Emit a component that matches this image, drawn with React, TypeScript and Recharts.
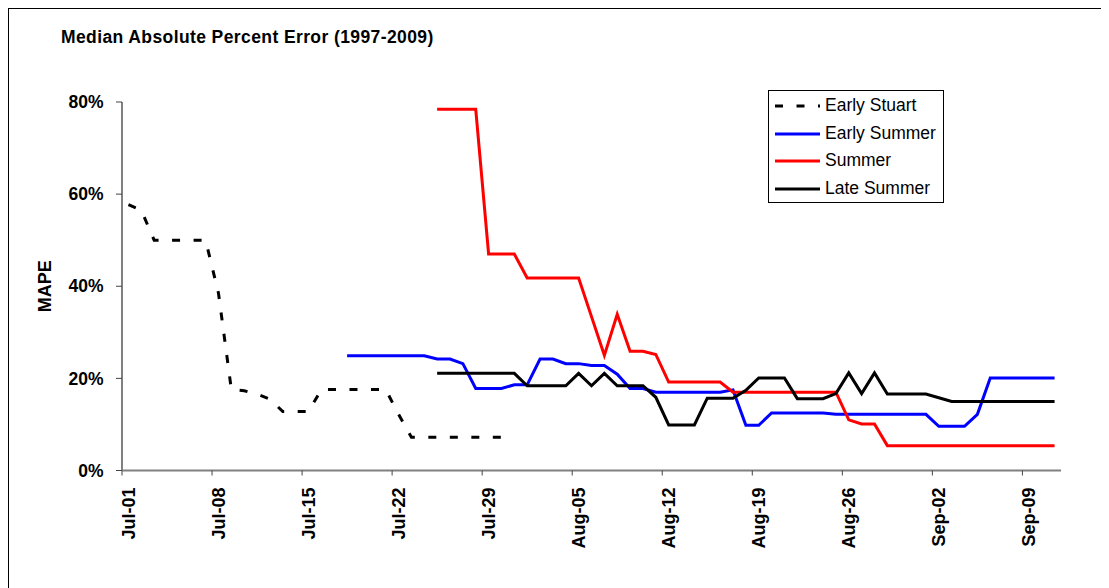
import React from 'react';
import { LineChart, Line, XAxis, YAxis, Legend } from 'recharts';

const FONT = '"Liberation Sans", Arial, Helvetica, sans-serif';

// Categories: one per day, Jul-01 .. Sep-11
const dates = [
  'Jul-01','Jul-02','Jul-03','Jul-04','Jul-05','Jul-06','Jul-07','Jul-08','Jul-09','Jul-10',
  'Jul-11','Jul-12','Jul-13','Jul-14','Jul-15','Jul-16','Jul-17','Jul-18','Jul-19','Jul-20',
  'Jul-21','Jul-22','Jul-23','Jul-24','Jul-25','Jul-26','Jul-27','Jul-28','Jul-29','Jul-30',
  'Jul-31','Aug-01','Aug-02','Aug-03','Aug-04','Aug-05','Aug-06','Aug-07','Aug-08','Aug-09',
  'Aug-10','Aug-11','Aug-12','Aug-13','Aug-14','Aug-15','Aug-16','Aug-17','Aug-18','Aug-19',
  'Aug-20','Aug-21','Aug-22','Aug-23','Aug-24','Aug-25','Aug-26','Aug-27','Aug-28','Aug-29',
  'Aug-30','Aug-31','Sep-01','Sep-02','Sep-03','Sep-04','Sep-05','Sep-06','Sep-07','Sep-08',
  'Sep-09','Sep-10','Sep-11',
];

// Tick labels (every 7th day)
const tickLabels = ['Jul-01','Jul-08','Jul-15','Jul-22','Jul-29','Aug-05','Aug-12','Aug-19','Aug-26','Sep-02','Sep-09'];
const yTicks = [0, 20, 40, 60, 80];

// Series values (MAPE, %), each with the day index where it begins
const earlyStuartStart = 0;
const earlyStuart = [
  57.7, 56.5, 50, 50, 50, 50, 50, 38.5, 17.6, 17.3,
  16.6, 15.5, 12.8, 12.8, 12.8, 17.6, 17.6, 17.6, 17.6, 17.6,
  17.6, 12.2, 7.2, 7.2, 7.2, 7.2, 7.2, 7.2, 7.2, 7.2, 7.2,
];

const earlySummerStart = 17;
const earlySummer = [
  24.9, 24.9, 24.9, 24.9, 24.9, 24.9, 24.9,
  24.2, 24.2, 23.2, 17.8, 17.8, 17.8, 18.6, 18.6, 24.2, 24.2, 23.2, 23.2, 22.8, 22.8, 20.9, 17.8, 17.8,
  17.0, 17.0, 17.0, 17.0, 17.0, 17.0,
  17.5, 9.8, 9.8,
  12.5, 12.5, 12.5, 12.5, 12.5,
  12.2, 12.2, 12.2, 12.2, 12.2, 12.2, 12.2, 12.2,
  9.6, 9.6, 9.6, 12.2,
  20.1, 20.1, 20.1, 20.1, 20.1, 20.1,
];

const summerStart = 24;
const summer = [
  78.4, 78.4, 78.4, 78.4,
  47.0, 47.0, 47.0,
  41.8, 41.8, 41.8, 41.8, 41.8,
  33.4, 25.0, 33.9, 25.9, 25.9, 25.2,
  19.2, 19.2, 19.2, 19.2, 19.2,
  17.0, 17.0, 17.0, 17.0, 17.0, 17.0, 17.0, 17.0, 17.0,
  11.0, 10.1, 10.1,
  5.4, 5.4, 5.4, 5.4, 5.4, 5.4, 5.4, 5.4, 5.4, 5.4, 5.4, 5.4, 5.4, 5.4,
];

const lateSummerStart = 24;
const lateSummer = [
  21.1, 21.1, 21.1, 21.1, 21.1, 21.1, 21.1,
  18.4, 18.4, 18.4, 18.4,
  21.1, 18.4, 21.1,
  18.4, 18.4, 18.4,
  15.9, 9.9, 9.9, 9.9,
  15.7, 15.7, 15.7, 17.4,
  20.1, 20.1, 20.1,
  15.6, 15.6, 15.6,
  16.7, 21.2, 16.7, 21.2,
  16.6, 16.6, 16.6, 16.6,
  15.8,
  15.0, 15.0, 15.0, 15.0, 15.0, 15.0, 15.0, 15.0, 15.0,
];

const seriesDefs = [
  { key: 'earlyStuart', name: 'Early Stuart', color: '#000000', dash: '8 13.5', start: earlyStuartStart, values: earlyStuart },
  { key: 'earlySummer', name: 'Early Summer', color: '#0000FF', dash: undefined, start: earlySummerStart, values: earlySummer },
  { key: 'summer', name: 'Summer', color: '#FF0000', dash: undefined, start: summerStart, values: summer },
  { key: 'lateSummer', name: 'Late Summer', color: '#000000', dash: undefined, start: lateSummerStart, values: lateSummer },
];

const rows = dates.map((d, i) => {
  const r: any = { i, date: d };
  seriesDefs.forEach((s) => {
    const v = s.values[i - s.start];
    r[s.key] = v === undefined ? null : v;
  });
  return r;
});

// category boundaries, Excel style "between tick marks"
const xTicks = tickLabels.map((_, k) => k * 7 - 0.5);

const XTick = (props: any) => {
  const { x, y, payload } = props;
  const k = Math.round((payload.value + 0.5) / 7);
  return (
    <text
      transform={`translate(${x + 13},${y + 10}) rotate(-90)`}
      textAnchor="end"
      fontSize={18}
      fontWeight="bold"
      fill="#000"
      fontFamily={FONT}
    >
      {tickLabels[k]}
    </text>
  );
};

const LegendBox = () => (
  <div
    style={{
      border: '1px solid #000',
      background: '#fff',
      width: 176,
      height: 113,
      boxSizing: 'border-box',
      padding: '1px 0 0 6px',
      fontFamily: FONT,
      fontSize: 17.5,
      color: '#000',
    }}
  >
    {seriesDefs.map((s) => (
      <div key={s.key} style={{ display: 'flex', alignItems: 'center', height: 27.7 }}>
        <svg width={45} height={4} style={{ display: 'block' }}>
          <line x1={0} y1={2} x2={45} y2={2} stroke={s.color} strokeWidth={3} strokeDasharray={s.dash} />
        </svg>
        <span style={{ marginLeft: 5, lineHeight: 1, whiteSpace: 'nowrap' }}>{s.name}</span>
      </div>
    ))}
  </div>
);

export default function App() {
  return (
    <div
      style={{
        position: 'relative',
        width: 1101,
        height: 580,
        fontFamily: FONT,
        background: '#fff',
        boxSizing: 'border-box',
        borderTop: '1px solid #000',
        borderLeft: '1px solid #000',
      }}
    >
      <div
        style={{
          position: 'absolute',
          left: 52,
          top: 17.6,
          fontSize: 17.5,
          fontWeight: 'bold',
          letterSpacing: 0.4,
          whiteSpace: 'nowrap',
          color: '#000',
        }}
      >
        Median Absolute Percent Error (1997-2009)
      </div>
      <LineChart
        width={1100}
        height={579}
        data={rows}
        margin={{ top: 93, right: 48, bottom: 37.5, left: 13 }}
      >
        <XAxis
          dataKey="i"
          type="number"
          domain={[-0.5, 72.5]}
          ticks={xTicks}
          interval={0}
          height={80}
          axisLine={{ stroke: '#808080', strokeWidth: 2 }}
          tickLine={{ stroke: '#444', strokeWidth: 1 }}
          tickSize={5}
          tick={<XTick />}
        />
        <YAxis
          type="number"
          domain={[0, 80]}
          ticks={yTicks}
          width={100}
          axisLine={{ stroke: '#808080', strokeWidth: 2 }}
          tickLine={{ stroke: '#444', strokeWidth: 1 }}
          tickSize={6}
          tickMargin={12.4}
          tickFormatter={(v: number) => `${v}%`}
          tick={{ fill: '#000', fontSize: 17.5, fontWeight: 'bold', fontFamily: FONT }}
          label={{
            value: 'MAPE',
            angle: -90,
            position: 'insideLeft',
            offset: 23,
            style: { textAnchor: 'middle', fontSize: 18, fontWeight: 'bold', fill: '#000', fontFamily: FONT },
          }}
        />
        <Legend
          layout="vertical"
          align="center"
          verticalAlign="middle"
          content={() => <LegendBox />}
          wrapperStyle={{ left: 759, top: 81, width: 176, height: 113 }}
        />
        {seriesDefs.map((s) => (
          <Line
            key={s.key}
            type="linear"
            dataKey={s.key}
            name={s.name}
            stroke={s.color}
            strokeWidth={3}
            strokeDasharray={s.dash}
            dot={false}
            activeDot={false}
            connectNulls={false}
            isAnimationActive={false}
          />
        ))}
      </LineChart>
    </div>
  );
}
